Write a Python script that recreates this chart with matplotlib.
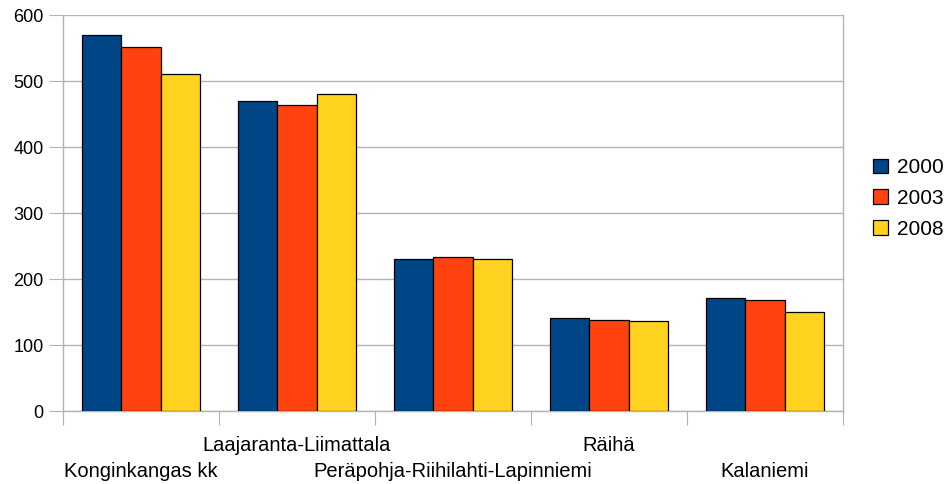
import matplotlib
matplotlib.use("Agg")
import matplotlib.pyplot as plt
import numpy as np

categories = ["Konginkangas kk", "Laajaranta-Liimattala", "Peräpohja-Riihilahti-Lapinniemi", "Räihä", "Kalaniemi"]
series_names = ["2000", "2003", "2008"]
v2000 = [569, 469, 230, 141, 171]
v2003 = [551, 463, 233, 138, 168]
v2008 = [510, 480, 230, 136, 150]
yticks = [0, 100, 200, 300, 400, 500, 600]

colors = ["#004586", "#ff420e", "#ffd320"]
plt.rcParams['font.family'] = ['Liberation Sans', 'DejaVu Sans']

fig = plt.figure(figsize=(9.46, 4.84), dpi=100)
ax = fig.add_axes([63/946, 1 - 411/484, (843 - 63)/946, (411 - 15)/484])

x = np.arange(len(categories))
w = 0.252
for i, (vals, name, c) in enumerate(zip([v2000, v2003, v2008], series_names, colors)):
    ax.bar(x + (i - 1) * w, vals, width=w, color=c, edgecolor="black", linewidth=0.9,
           label=name, zorder=3)

ax.set_xlim(-0.5, len(categories) - 0.5)
ax.set_ylim(0, 600)
ax.set_yticks(yticks)
ax.yaxis.grid(True, color="#b3b3b3", linewidth=1, zorder=0)
for s in ax.spines.values():
    s.set_color("#b3b3b3")
    s.set_linewidth(1)
ax.spines['top'].set_visible(False)
ax.tick_params(axis='y', length=10, color="#b3b3b3", labelsize=13, pad=4)

# category boundaries as ticks (marks only)
ax.set_xticks(np.arange(len(categories) + 1) - 0.5)
ax.set_xticklabels([])
ax.tick_params(axis='x', which='major', length=10, color="#b3b3b3")

# staggered category labels
for xi, c in zip(x, categories):
    off = -28.8 if xi % 2 == 1 else -47.7
    ax.annotate(c, xy=(xi, 0), xycoords=('data', 'axes fraction'),
                xytext=(0, off), textcoords='offset points',
                ha='center', va='baseline', fontsize=14.5)

fig.legend(loc='center left', bbox_to_anchor=(865/946, 1 - 198.5/484), frameon=False,
           fontsize=15, handlelength=0.72, handleheight=0.72, handletextpad=0.43,
           labelspacing=0.56, borderaxespad=0)

fig.savefig("out.png", dpi=100)
